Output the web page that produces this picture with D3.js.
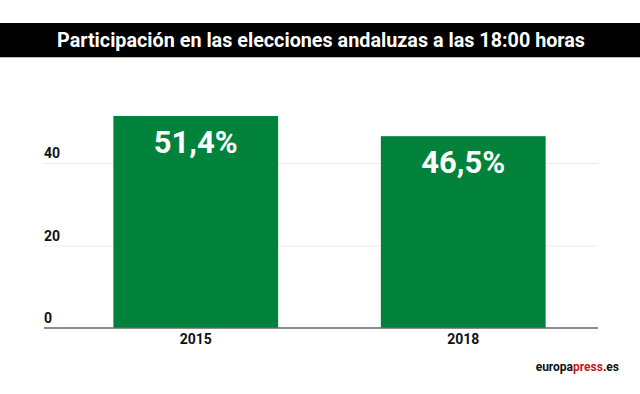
<!DOCTYPE html>
<html>
<head>
<meta charset="utf-8">
<script src="https://cdn.jsdelivr.net/npm/d3@7"></script>
<style>
  body { margin: 0; background: #fff; }
  text { font-family: Roboto, "Liberation Sans", sans-serif; }
</style>
</head>
<body>
<script>
var width = 640, height = 394

// data
var years = ["2015", "2018"]
var turnout = [51.4, 46.5]
var valueLabels = ["51,4%", "46,5%"]
var yTicks = [0, 20, 40]
var title = "Participación en las elecciones andaluzas a las 18:00 horas"

var svg = d3.select("body").append("svg")
    .attr("width", width).attr("height", height)

// title bar
svg.append("rect")
    .attr("x", 0).attr("y", 23).attr("width", width).attr("height", 34)
    .attr("fill", "#000")
svg.append("line")
    .attr("x1", 0).attr("x2", width).attr("y1", 57.5).attr("y2", 57.5)
    .attr("stroke", "#bbb").attr("stroke-width", 1)
svg.append("text")
    .attr("x", 321).attr("y", 47)
    .attr("text-anchor", "middle")
    .attr("fill", "#fff")
    .style("font-size", "21px").style("font-weight", 700)
    .attr("textLength", 528).attr("lengthAdjust", "spacingAndGlyphs")
    .text(title)

var xScale = d3.scaleBand()
    .domain(years)
    .range([62, 597])
    .paddingInner(0.384)
    .paddingOuter(0.192)

var yScale = d3.scaleLinear()
    .domain([0, 60])
    .range([328, 80.5])

// grid
var yGrid = d3.axisLeft(yScale)
    .tickValues(yTicks.filter(function(d) { return d > 0 }))
    .tickFormat("")
    .tickSizeInner(-(598 - 44))
    .tickSizeOuter(0)
svg.append("g")
    .attr("class", "y-grid")
    .attr("transform", "translate(44,0)")
    .call(yGrid)
    .call(function(g) {
        g.select(".domain").remove()
        g.selectAll("line").attr("stroke", "#ececec").attr("stroke-width", 1)
    })

// y tick labels sit above the grid lines
svg.append("g")
    .selectAll("text").data(yTicks)
    .enter().append("text")
    .attr("x", 44)
    .attr("y", function(d) { return yScale(d) - 5 })
    .attr("fill", "#111")
    .style("font-size", "14px").style("font-weight", 700)
    .text(function(d) { return d })

// bars
svg.append("g")
    .selectAll("rect").data(turnout)
    .enter().append("rect")
    .attr("x", function(d, i) { return xScale(years[i]) })
    .attr("y", function(d) { return yScale(d) })
    .attr("width", xScale.bandwidth())
    .attr("height", function(d) { return yScale(0) - yScale(d) })
    .attr("fill", "#00823b")

// value labels
svg.append("g")
    .selectAll("text").data(turnout)
    .enter().append("text")
    .attr("x", function(d, i) { return xScale(years[i]) + xScale.bandwidth() / 2 })
    .attr("y", function(d) { return yScale(d) + 37 })
    .attr("text-anchor", "middle")
    .attr("fill", "#fff")
    .style("font-size", "31px").style("font-weight", 700)
    .text(function(d, i) { return valueLabels[i] })

// x axis
var xAxis = d3.axisBottom(xScale).tickSize(0).tickPadding(6)
svg.append("g")
    .attr("transform", "translate(0," + yScale(0) + ")")
    .call(xAxis)
    .call(function(g) {
        g.select(".domain").remove()
        g.selectAll("text")
            .attr("fill", "#111")
            .style("font-family", "Roboto, sans-serif")
            .style("font-size", "14px").style("font-weight", 700)
    })
svg.append("line")
    .attr("x1", 44).attr("x2", 598)
    .attr("y1", yScale(0)).attr("y2", yScale(0))
    .attr("stroke", "#666").attr("stroke-width", 1.5)

// source
var src = svg.append("text")
    .attr("x", 619).attr("y", 371)
    .attr("text-anchor", "end")
    .attr("fill", "#111")
    .style("font-size", "12px").style("font-weight", 700)
src.append("tspan").text("europa")
src.append("tspan").attr("fill", "#d0121b").text("press")
src.append("tspan").text(".es")
</script>
</body>
</html>
